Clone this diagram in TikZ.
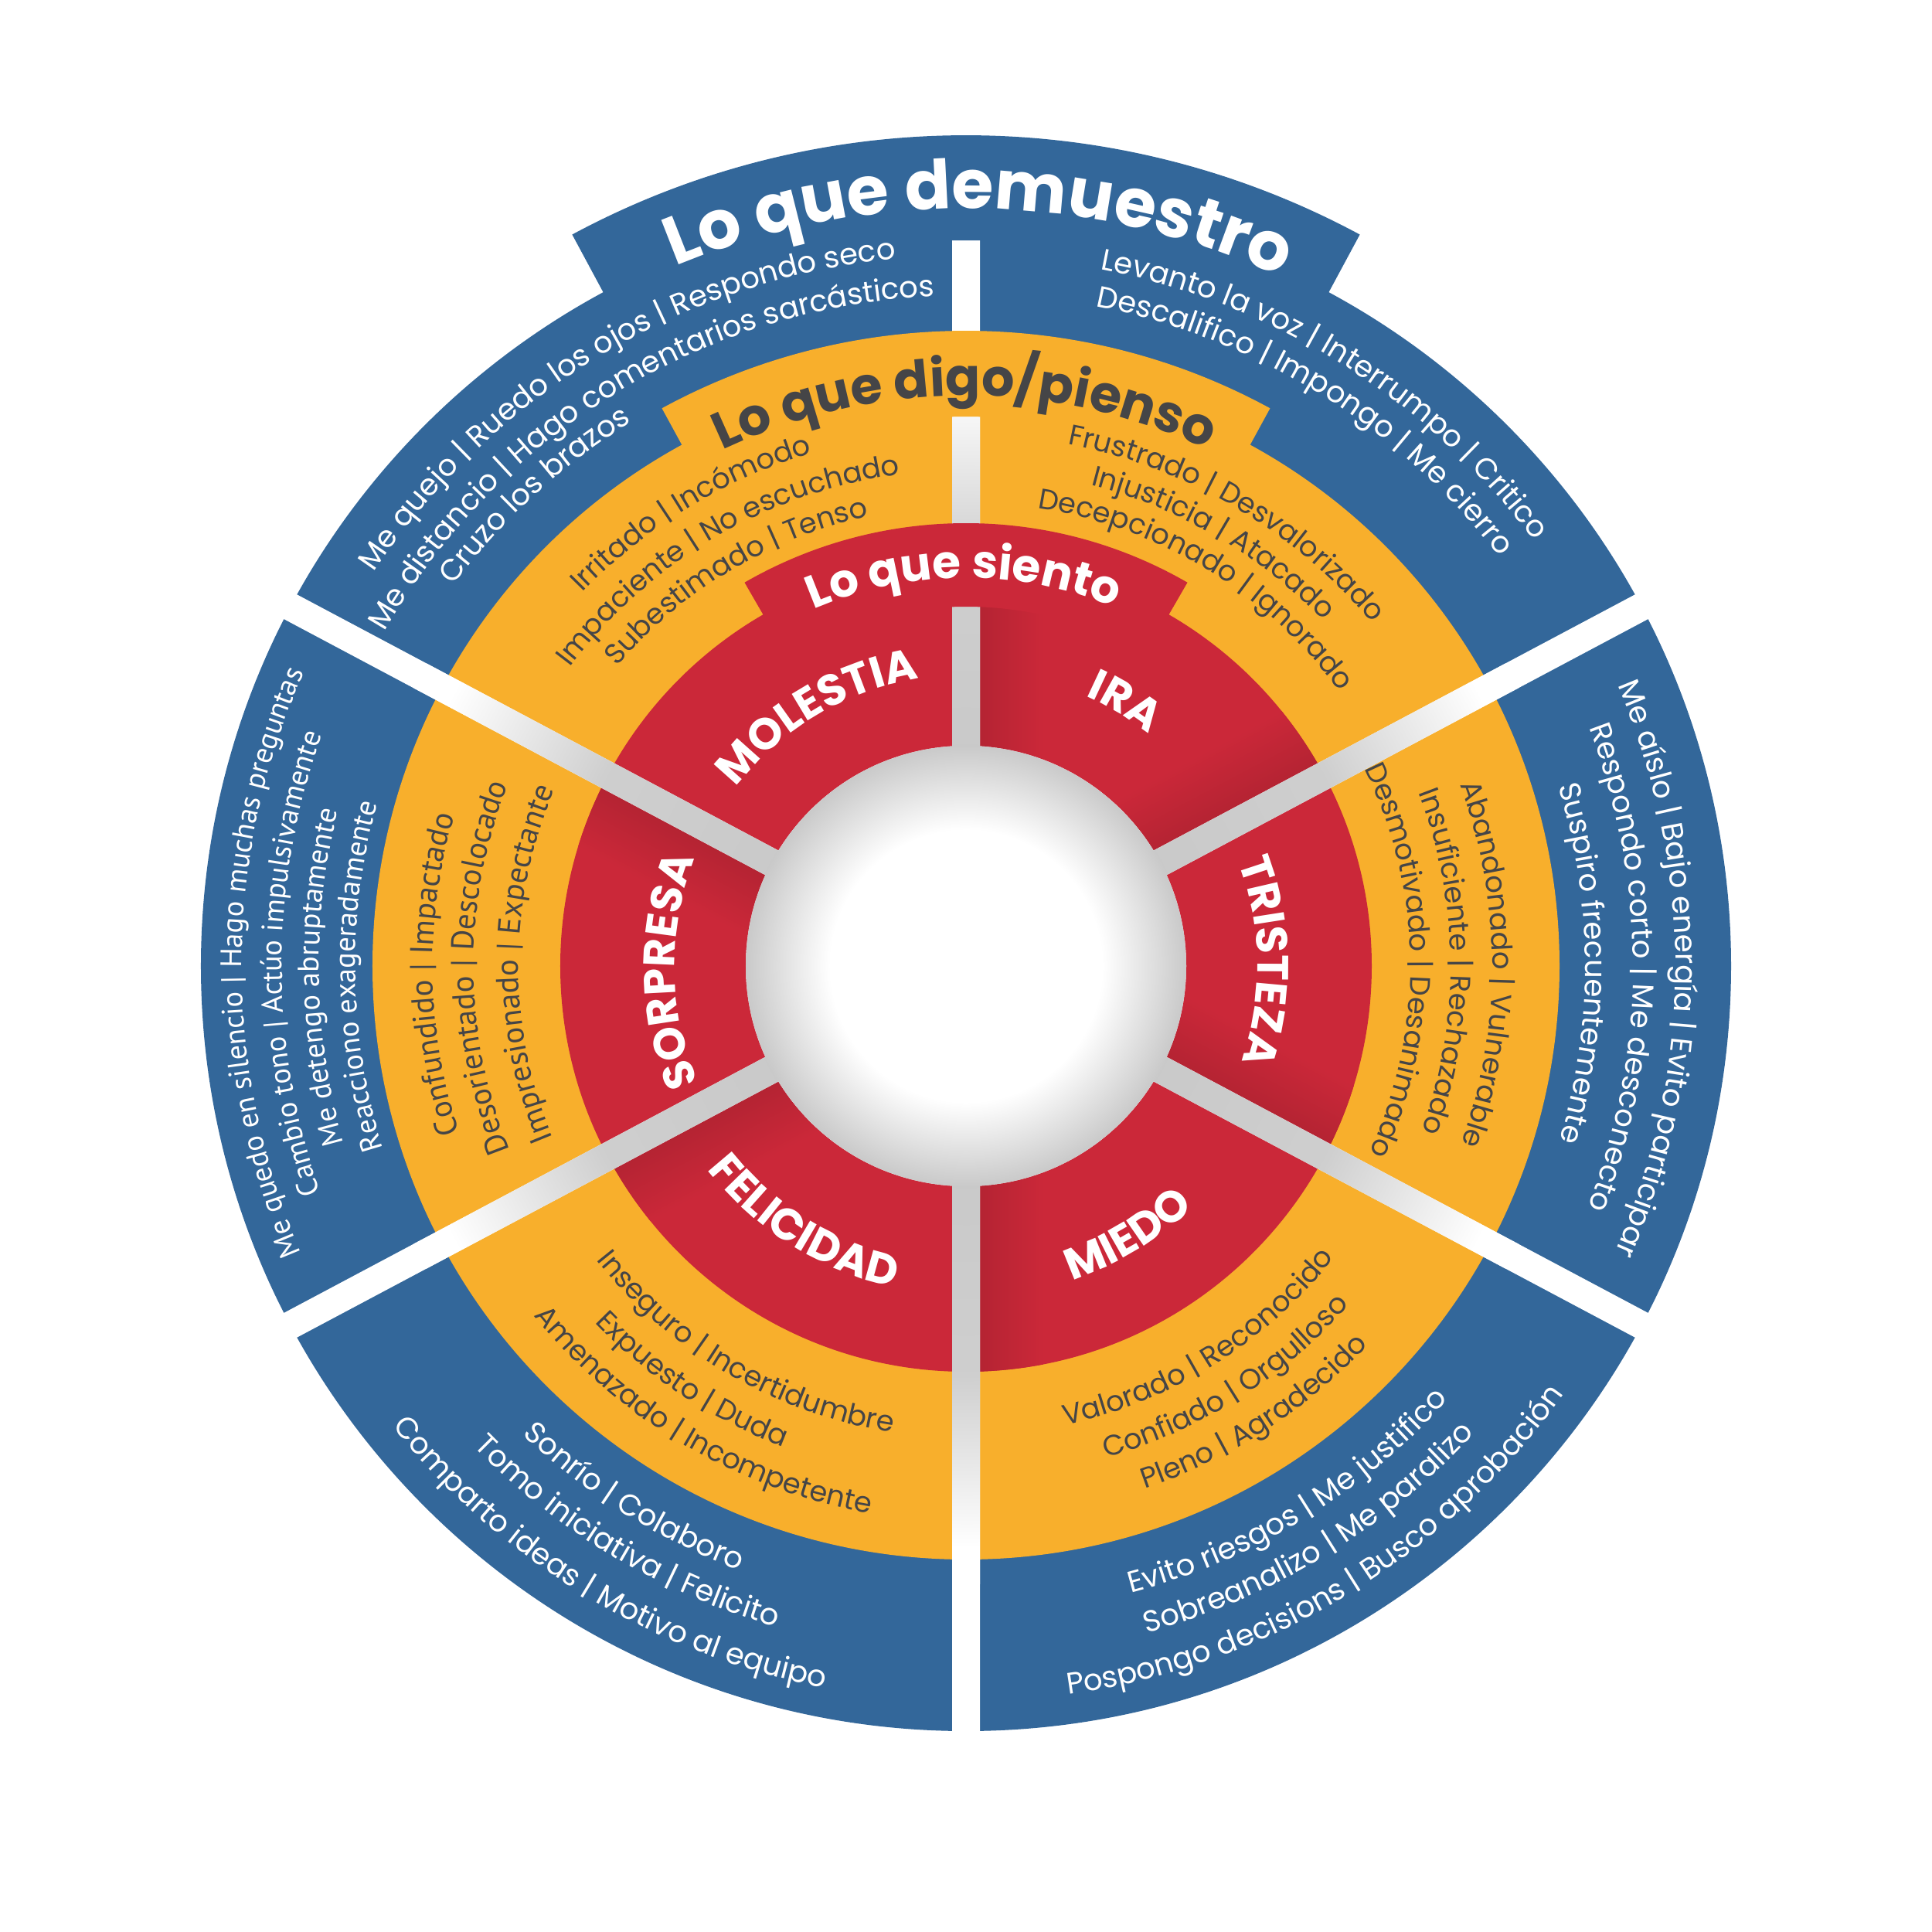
\documentclass[tikz,border=0pt]{standalone}
\usepackage{fontspec}
\setmainfont{Poppins}
\newfontfamily\leftfont{PT Sans}
\usetikzlibrary{decorations.text}

\definecolor{blueRing}{HTML}{33679A}
\definecolor{orangeRing}{HTML}{F8AF2C}
\definecolor{redRing}{HTML}{CB2839}
\definecolor{darkText}{HTML}{454547}

\pgfdeclareradialshading{hubshade}{\pgfpointorigin}{color(0bp)=(white); color(5.5bp)=(white); color(8.9bp)=(black!21); color(16.5bp)=(black!19); color(23.5bp)=(white); color(50bp)=(white)}

\newcommand\fmtBlue{\fontsize{11}{11}\selectfont\color{white}}
\newcommand\fmtOrange{\fontsize{10.5}{10.5}\selectfont\color{darkText}}
\newcommand\fmtBlueL{\leftfont\fontsize{10.9}{10.9}\selectfont\color{white}}
\newcommand\fmtOrangeL{\leftfont\fontsize{11.6}{11.6}\selectfont\color{darkText}}
\newcommand\fmtLabel{\bfseries\fontsize{16.2}{16.2}\selectfont\color{white}}
\newcommand\fmtTitleA{\bfseries\fontsize{25}{25}\selectfont\color{white}}
\newcommand\fmtTitleB{\bfseries\fontsize{19}{19}\selectfont\color{darkText}}
\newcommand\fmtTitleC{\bfseries\fontsize{17}{17}\selectfont\color{white}}

% text on a clockwise arc (letters point outwards)
\newcommand\arcout[4]{\path[decorate,decoration={text along path,text format delimiters={[}{]},
    text={[#3]#4},text align=center}] ({#2+70}:#1) arc[start angle={#2+70},end angle={#2-70},radius=#1];}
% text on a counter-clockwise arc (letters point inwards)
\newcommand\arcin[4]{\path[decorate,decoration={text along path,text format delimiters={[}{]},
    text={[#3]#4},text align=center}] ({#2-70}:#1) arc[start angle={#2-70},end angle={#2+70},radius=#1];}

\tikzset{
  blue ring/.style={fill=blueRing},
  orange ring/.style={fill=orangeRing},
  red ring/.style={fill=redRing},
  shadow ccw/.style={bottom color=redRing!89!black,top color=redRing},
  shadow cw/.style={top color=redRing!89!black,bottom color=redRing},
}

\begin{document}
\begin{tikzpicture}
\useasboundingbox (-12.5,-12.5) rectangle (12.5,12.5);

% rings
\fill[blue ring] (0,0) circle (9.9);
\fill[orange ring] (0,0) circle (7.68);
\fill[red ring] (0,0) circle (5.25);

% soft shadow beside the gaps
\begin{scope}
  \clip (0,0) circle (5.25);
  \foreach \g in {28,152,208,270,332} {
    \begin{scope}[transform canvas={rotate=\g}]
      \shade[shadow ccw] (0,0.18) rectangle (5.3,1.0);
    \end{scope}
  }
  \begin{scope}[transform canvas={rotate=90}]
    \shade[shadow cw] (0,-1.0) rectangle (5.3,-0.18);
  \end{scope}
\end{scope}

% gaps and hub
\begin{scope}
  \clip (0,0) circle (2.85) \foreach \a in {90,28,-28} {({\a}:11) ++({\a+90}:0.18) -- ++({\a+180}:22) -- ++({\a-90}:0.36) -- ++({\a}:22) -- cycle};
  \fill[white] (0,0) circle (11);
  \shade[shading=hubshade] (0,0) circle (8);
\end{scope}

% title tabs
\fill[red ring] (60:4.65) arc[start angle=60,end angle=120,radius=4.65] -- (120:5.73) arc[start angle=120,end angle=60,radius=5.73] -- cycle;
\fill[orange ring] (61.4:7.11) arc[start angle=61.4,end angle=118.6,radius=7.11] -- (118.6:8.22) arc[start angle=118.6,end angle=61.4,radius=8.22] -- cycle;
\fill[blue ring] (61.7:9.39) arc[start angle=61.7,end angle=118.3,radius=9.39] -- (118.3:10.75) arc[start angle=118.3,end angle=61.7,radius=10.75] -- cycle;

% titles
\arcout{9.80}{89}{\fmtTitleA}{Lo que demuestro}
\arcout{7.38}{90.1}{\fmtTitleB}{Lo que digo/pienso}
\arcout{5.02}{90.3}{\fmtTitleC}{Lo que siento}

% emotions
\arcout{3.77}{120.7}{\fmtLabel}{MOLESTIA}
\arcout{3.82}{58.9}{\fmtLabel}{IRA}
\arcout{3.77}{0.9}{\fmtLabel}{TRISTEZA}
\arcout{3.77}{180.9}{\fmtLabel}{SORPRESA}
\arcin{4.26}{237.75}{\fmtLabel}{FELICIDAD}
\arcin{4.29}{-59}{\fmtLabel}{MIEDO}

% what I say / think
\arcout{6.93}{121.25}{\fmtOrange}{Irritado | Incómodo}
\arcout{6.42}{120.3}{\fmtOrange}{Impaciente | No escuchado}
\arcout{5.95}{120.8}{\fmtOrange}{Subestimado | Tenso}
\arcout{6.88}{59.6}{\fmtOrange}{Frustrado | Desvalorizado}
\arcout{6.43}{59.75}{\fmtOrange}{Injusticia | Atacado}
\arcout{6.00}{58.7}{\fmtOrange}{Decepcionado | Ignorado}
\arcout{6.81}{0.2}{\fmtOrange}{Abandonado | Vulnerable}
\arcout{6.27}{0.55}{\fmtOrange}{Insuficiente | Rechazado}
\arcout{5.75}{0.7}{\fmtOrange}{Desmotivado | Desanimado}
\arcout{6.90}{180.9}{\fmtOrangeL}{Confundido | Impactado}
\arcout{6.37}{180.2}{\fmtOrangeL}{Desorientado | Descolocado}
\arcout{5.79}{179.75}{\fmtOrangeL}{Impresionado | Expectante}
\arcin{6.11}{239.75}{\fmtOrange}{Inseguro | Incertidumbre}
\arcin{6.66}{236.5}{\fmtOrange}{Expuesto | Duda}
\arcin{7.19}{239.5}{\fmtOrange}{Amenazado | Incompetente}
\arcin{6.08}{-58.1}{\fmtOrange}{Valorado | Reconocido}
\arcin{6.62}{-57.8}{\fmtOrange}{Confiado | Orgulloso}
\arcin{7.15}{-57.2}{\fmtOrange}{Pleno | Agradecido}

% what I show
\arcout{9.20}{121.0}{\fmtBlue}{Me quejo | Ruedo los ojos | Respondo seco}
\arcout{8.68}{121.4}{\fmtBlue}{Me distancio | Hago comentarios sarcásticos}
\arcout{8.26}{132.5}{\fmtBlue}{Cruzo los brazos}
\arcout{9.18}{57.95}{\fmtBlue}{Levanto la voz | Interrumpo | Critico}
\arcout{8.70}{58.2}{\fmtBlue}{Descalifico | Impongo | Me cierro}
\arcout{9.18}{-0.25}{\fmtBlue}{Me aíslo | Bajo energía | Evito participar}
\arcout{8.63}{-0.15}{\fmtBlue}{Respondo corto | Me desconecto}
\arcout{8.01}{0.25}{\fmtBlue}{Suspiro frecuentemente}
\arcout{9.37}{179.7}{\fmtBlueL}{Me quedo en silencio | Hago muchas preguntas}
\arcout{8.85}{179.8}{\fmtBlueL}{Cambio tono | Actúo impulsivamente}
\arcout{8.37}{181}{\fmtBlueL}{Me detengo abruptamente}
\arcout{7.90}{181}{\fmtBlueL}{Reacciono exageradamente}
\arcin{8.35}{238}{\fmtBlue}{Sonrío | Colaboro}
\arcin{8.90}{239.1}{\fmtBlue}{Tomo iniciativa | Felicito}
\arcin{9.52}{238.8}{\fmtBlue}{Comparto ideas | Motivo al equipo}
\arcin{8.39}{-58.6}{\fmtBlue}{Evito riesgos | Me justifico}
\arcin{8.94}{-58.7}{\fmtBlue}{Sobreanalizo | Me paralizo}
\arcin{9.52}{-58.8}{\fmtBlue}{Pospongo decisions | Busco aprobación}
\end{tikzpicture}
\end{document}
